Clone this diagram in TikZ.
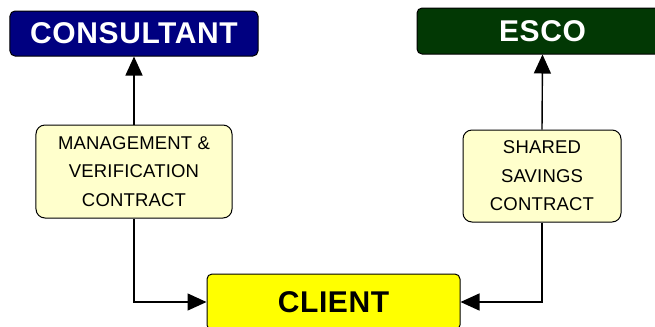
\documentclass[tikz,border=0pt]{standalone}
\usepackage{fontspec}
\setmainfont{Liberation Sans}
\usetikzlibrary{arrows.meta}
\definecolor{navybox}{RGB}{0,0,128}
\definecolor{greenbox}{RGB}{2,56,4}
\definecolor{clientyellow}{RGB}{255,255,0}
\definecolor{paleyellow}{RGB}{255,255,204}
\tikzset{
  partybox/.style={draw=black, line width=1bp, rounded corners=5bp, inner sep=0pt,
    font=\fontsize{30bp}{33bp}\selectfont\bfseries\addfontfeature{LetterSpace=2}},
  contractbox/.style={draw=black, line width=1bp, rounded corners=9bp, inner sep=0pt,
    fill=paleyellow, align=center, text=black,
    font=\fontsize{18.5bp}{28.5bp}\selectfont\addfontfeature{LetterSpace=1}},
  link/.style={draw=black, line width=1.4bp, -{Triangle[length=19bp,width=17bp]}},
}
\begin{document}
\begin{tikzpicture}[x=1bp,y=-1bp]
\useasboundingbox (0,0) rectangle (655,326);

% parties
\node[partybox, fill=navybox, text=white, minimum width=248bp, minimum height=45bp]
  (consultant) at (134,33.5) {CONSULTANT};
\node[partybox, fill=greenbox, text=white, minimum width=251bp, minimum height=46bp]
  (esco) at (542.5,31) {ESCO};
\node[partybox, fill=clientyellow, text=black, minimum width=253bp, minimum height=56bp]
  (client) at (333.5,302) {CLIENT};

% contracts
\node[contractbox, minimum width=196bp, minimum height=93bp]
  (mv) at (134,171.5) {MANAGEMENT \&\\VERIFICATION\\CONTRACT};
\node[contractbox, minimum width=158bp, minimum height=92bp]
  (ss) at (542,176) {SHARED\\SAVINGS\\CONTRACT};

% connectors
\draw[link] (mv.north) -- (consultant.south);
\draw[link] (ss.north) -- (esco.south);
\draw[link] (mv.south) |- (client.west);
\draw[link] (ss.south) |- (client.east);
\end{tikzpicture}
\end{document}
